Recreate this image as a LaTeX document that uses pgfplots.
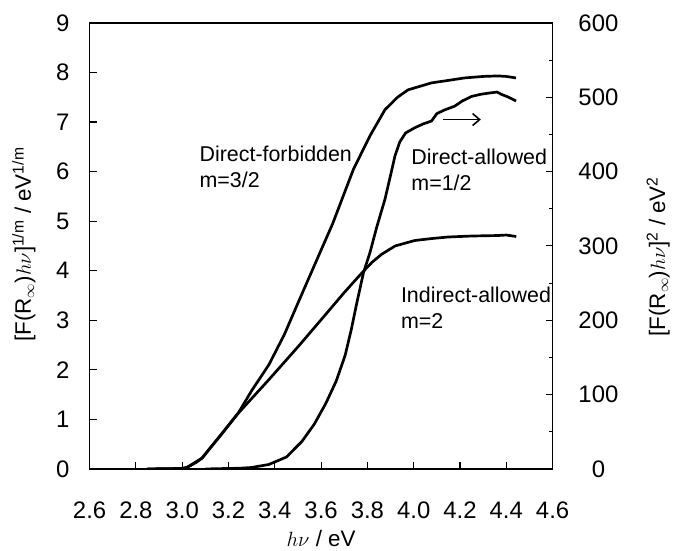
\documentclass[border=0pt]{standalone}
\usepackage{pgfplots}
\pgfplotsset{compat=1.18}
\usetikzlibrary{arrows.meta}
\usepackage{fontspec}
\setmainfont{Liberation Sans}
\begin{document}
\begin{tikzpicture}
\pgfplotsset{
  common/.style={
    scale only axis, width=465pt, height=448pt,
    xmin=2.6, xmax=4.6,
    axis line style={line width=1.6pt},
    tick style={line width=1.1pt, black},
    major tick length=7pt, minor tick length=4pt, tick align=inside,
    tick label style={font=\fontsize{24}{28}\selectfont},
    label style={font=\fontsize{22.5}{26}\selectfont},
  }
}
\begin{axis}[common,
  at={(0,0)}, anchor=south west,
  ymin=0, ymax=9,
  xtick={2.6,2.8,3.0,3.2,3.4,3.6,3.8,4.0,4.2,4.4,4.6},
  xticklabels={2.6,2.8,3.0,3.2,3.4,3.6,3.8,4.0,4.2,4.4,4.6},
  ytick={0,1,2,3,4,5,6,7,8,9},
  yticklabels={0,1,2,3,4,5,6,7,8,9},
  xtick pos=bottom, ytick pos=left,
  xticklabel style={anchor=center, yshift=-41pt},
  yticklabel style={anchor=center, xshift=-27pt},
  xlabel={$h\nu$ / eV},
  xlabel style={at={(axis description cs:0.5,0)}, anchor=center, yshift=-70pt},
  ylabel={[F(R$_\infty$)$h\nu$]\textsuperscript{1/m} / eV\textsuperscript{1/m}},
  ylabel style={at={(axis description cs:0,0.503)}, anchor=center, yshift=66pt},
]
% Direct-forbidden m=3/2
\addplot[black, line width=2.7pt] coordinates {
(2.85,0) (3.0,0.01) (3.02,0.03) (3.086,0.22) (3.159,0.64) (3.20,0.88) (3.245,1.15)
(3.30,1.58) (3.374,2.10) (3.44,2.70) (3.503,3.38) (3.589,4.30) (3.65,4.95)
(3.69,5.44) (3.74,6.05) (3.811,6.72) (3.876,7.25) (3.93,7.50) (3.976,7.65)
(4.077,7.79) (4.15,7.84) (4.22,7.89) (4.30,7.92) (4.363,7.93) (4.40,7.92) (4.442,7.89)};
% Indirect-allowed m=2
\addplot[black, line width=2.7pt] coordinates {
(2.85,0) (3.0,0.01) (3.02,0.03) (3.06,0.13) (3.086,0.22) (3.12,0.42) (3.159,0.64)
(3.20,0.88) (3.245,1.14) (3.374,1.80) (3.503,2.48) (3.62,3.12) (3.70,3.56)
(3.75,3.82) (3.783,3.99) (3.82,4.17) (3.861,4.33) (3.92,4.50) (4.005,4.61)
(4.08,4.65) (4.148,4.68) (4.25,4.70) (4.363,4.71) (4.40,4.72) (4.443,4.69)};
\node[anchor=west, align=left, font=\fontsize{21.5}{26}\selectfont] at (axis cs:3.06,6.1) {Direct-forbidden\\m=3/2};
\node[anchor=west, align=left, font=\fontsize{21.5}{26}\selectfont] at (axis cs:3.975,6.03) {Direct-allowed\\m=1/2};
\node[anchor=west, align=left, font=\fontsize{21.5}{26}\selectfont] at (axis cs:3.93,3.26) {Indirect-allowed\\m=2};
\draw[-{Straight Barb[length=7pt,width=12pt,line width=1.6pt]}, line width=1.6pt] (axis cs:4.127,7.05) -- (axis cs:4.29,7.05);
\end{axis}
\begin{axis}[common,
  at={(0,0)}, anchor=south west,
  ymin=0, ymax=600,
  axis x line=none, axis y line*=right,
  ytick={0,100,200,300,400,500,600},
  yticklabels={0,100,200,300,400,500,600},
  minor ytick={50,150,250,350,450,550},
  yticklabel style={anchor=center, xshift=46pt},
  ylabel={[F(R$_\infty$)$h\nu$]\textsuperscript{2} / eV\textsuperscript{2}},
  ylabel style={at={(axis description cs:1,0.476)}, anchor=center, yshift=-106pt},
]
% Direct-allowed m=1/2
\addplot[black, line width=2.7pt] coordinates {
(3.10,0) (3.25,1) (3.30,2) (3.374,6) (3.45,16) (3.517,37) (3.57,60) (3.62,88)
(3.665,118) (3.704,153) (3.73,187) (3.754,223) (3.783,264) (3.811,291)
(3.84,325) (3.876,363) (3.90,395) (3.919,421) (3.94,440) (3.965,452)
(4.005,459) (4.04,464) (4.077,468) (4.10,478) (4.134,483) (4.177,488)
(4.21,495) (4.249,501) (4.29,504) (4.335,506) (4.36,507) (4.378,504)
(4.41,500) (4.442,495)};
\end{axis}
\path[use as bounding box] (-90pt,-80pt) rectangle (583pt,471pt);
\end{tikzpicture}
\end{document}
